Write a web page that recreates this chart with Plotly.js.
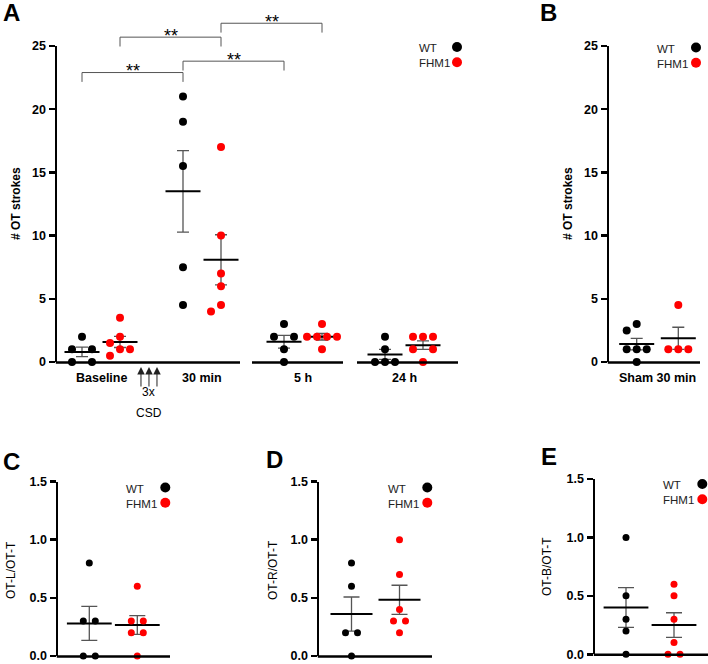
<!DOCTYPE html>
<html>
<head>
<meta charset="utf-8">
<script src="https://cdn.plot.ly/plotly-3.0.1.min.js"></script>
<style>
  html, body { margin: 0; padding: 0; background: #fff; overflow: hidden; }
  #fig { width: 708px; height: 664px; }
</style>
</head>
<body>
<div id="fig"></div>
<script>
/* ── Data ───────────────────────────────────────────────── */
const groupsA     = ['Baseline', '30 min', '5 h', '24 h'];
const strokesWT   = [[0, 0, 1, 1, 2], [21, 19, 15.5, 7.5, 4.5], [0, 1, 2, 2, 3], [0, 0, 0, 1, 2]];
const strokesFHM1 = [[3.5, 2, 1.5, 1, 1, 0.5], [17, 10, 7, 6, 4.5, 4], [1, 2, 2, 2, 2, 3], [0, 1, 1, 2, 2, 2]];

const groupsB  = ['Sham 30 min'];
const shamWT   = [0, 1, 1, 1, 2.5, 3];
const shamFHM1 = [1, 1, 1, 4.5];

const ratioL_WT   = [0, 0, 0.3, 0.3, 0.8];
const ratioL_FHM1 = [0, 0.2, 0.2, 0.3, 0.3, 0.6];
const ratioR_WT   = [0, 0.2, 0.2, 0.6, 0.8];
const ratioR_FHM1 = [0.2, 0.3, 0.3, 0.4, 0.7, 1.0];
const ratioB_WT   = [0, 0.2, 0.3, 0.5, 1.0];
const ratioB_FHM1 = [0, 0, 0.1, 0.3, 0.5, 0.6];

const ticksStrokes = [0, 5, 10, 15, 20, 25];
const ticksRatio   = [0, 0.5, 1.0, 1.5];

// significance in panel A: [group a, group b, genotype, label]
const sigA = [
  [0, 1, 'wt',  '**'],
  [0, 1, 'fhm', '**'],
  [1, 2, 'wt',  '**'],
  [1, 2, 'fhm', '**'],
];

/* ── Page geometry ───────────────────────────────────────── */
const W = 708, H = 664;
const FONT = 'Arial, "Liberation Sans", Helvetica, sans-serif';
const WT_COLOR = '#000000', FHM_COLOR = '#ff0000';

const fx = px => px / W;        // page px -> paper x
const fy = px => 1 - px / H;    // page px -> paper y

const PANELS = {
  A: { ax: '',  x0: 57,  x1: 458, y0: 362,   y1: 46,    c0: 101,   unit: 101, half: 19,   step: 10, dot: 8, meanW: 25, cap: 6, yMax: 25,  ticks: ticksStrokes, fmt: '' },
  B: { ax: '2', x0: 609, x1: 700, y0: 362,   y1: 46,    c0: 657.5, unit: 100, half: 20.8, step: 10, dot: 8, meanW: 25, cap: 6, yMax: 25,  ticks: ticksStrokes, fmt: '' },
  C: { ax: '3', x0: 58,  x1: 170, y0: 656,   y1: 481.5, c0: 113.3, unit: 100, half: 24,   step: 6,  dot: 7, meanW: 32, cap: 8, yMax: 1.5, ticks: ticksRatio,   fmt: '.1f' },
  D: { ax: '4', x0: 319, x1: 432, y0: 656,   y1: 481.5, c0: 375.5, unit: 100, half: 24,   step: 6,  dot: 7, meanW: 30, cap: 8, yMax: 1.5, ticks: ticksRatio,   fmt: '.1f' },
  E: { ax: '5', x0: 595, x1: 708, y0: 654.3, y1: 479,   c0: 650,   unit: 100, half: 24,   step: 6,  dot: 7, meanW: 32, cap: 8, yMax: 1.5, ticks: ticksRatio,   fmt: '.1f' },
};

const panelGroups = {
  A: groupsA.map((g, i) => ({ wt: strokesWT[i], fhm: strokesFHM1[i] })),
  B: [{ wt: shamWT, fhm: shamFHM1 }],
  C: [{ wt: ratioL_WT, fhm: ratioL_FHM1 }],
  D: [{ wt: ratioR_WT, fhm: ratioR_FHM1 }],
  E: [{ wt: ratioB_WT, fhm: ratioB_FHM1 }],
};

/* ── Helpers ─────────────────────────────────────────────── */
const mean = a => a.reduce((s, v) => s + v, 0) / a.length;
const sem  = a => {
  const m = mean(a);
  return Math.sqrt(a.reduce((s, v) => s + (v - m) ** 2, 0) / (a.length - 1) / a.length);
};

// Prism-like dot spreading: equal values share a row, overlapping dots get nudged
function swarm(values, p) {
  const ppu = (p.y0 - p.y1) / p.yMax;
  const d = p.step;
  const counts = {}, seen = {};
  values.forEach(v => { counts[v] = (counts[v] || 0) + 1; });
  const order = values.map((v, i) => i).sort((a, b) => values[b] - values[a]);
  const placed = [], off = new Array(values.length);
  order.forEach(i => {
    const v = values[i], n = counts[v];
    const k = seen[v] = (seen[v] === undefined ? 0 : seen[v] + 1);
    const gap = n === 2 ? 2 * d : d;
    let o = (k - (n - 1) / 2) * gap;
    const hits = t => placed.some(q => Math.hypot(q.o - t, (q.v - v) * ppu) < p.dot + 1);
    if (hits(o)) {
      const cands = [];
      for (let s = 1; s < 6; s++) cands.push(o - s * d, o + s * d);
      cands.sort((a, b) => Math.abs(a) - Math.abs(b) || a - b);
      o = cands.find(t => !hits(t));
    }
    placed.push({ o, v });
    off[i] = o;
  });
  return off;
}

function panelTraces(key) {
  const p = PANELS[key];
  const xa = 'x' + p.ax, ya = 'y' + p.ax;
  const out = [];
  [['wt', -1, WT_COLOR], ['fhm', 1, FHM_COLOR]].forEach(([g, side, color]) => {
    const xs = [], ys = [], mx = [], my = [], me = [];
    panelGroups[key].forEach((grp, i) => {
      const vals = grp[g];
      const base = i + side * p.half / p.unit;
      swarm(vals, p).forEach((o, j) => { xs.push(base + o / p.unit); ys.push(vals[j]); });
      mx.push(base); my.push(mean(vals)); me.push(sem(vals));
    });
    out.push({
      type: 'scatter', mode: 'markers', x: mx, y: my, xaxis: xa, yaxis: ya,
      cliponaxis: false, hoverinfo: 'skip',
      marker: { symbol: 'line-ew', size: p.meanW, line: { width: 2, color: '#000' } },
      error_y: { type: 'data', array: me, visible: true, color: '#555', thickness: 1.3, width: p.cap },
    });
    out.push({
      type: 'scatter', mode: 'markers', x: xs, y: ys, xaxis: xa, yaxis: ya,
      cliponaxis: false, hoverinfo: 'skip',
      marker: { size: p.dot, color, line: { width: 0 } },
    });
  });
  return out;
}

/* ── Layout ──────────────────────────────────────────────── */
const layout = {
  width: W, height: H,
  margin: { l: 0, r: 0, t: 0, b: 0 },
  paper_bgcolor: '#fff', plot_bgcolor: 'rgba(0,0,0,0)',
  showlegend: false,
  font: { family: FONT, color: '#000' },
  shapes: [], annotations: [],
};

Object.entries(PANELS).forEach(([k, p]) => {
  layout['xaxis' + p.ax] = {
    domain: [fx(p.x0), fx(p.x1)],
    range: [(p.x0 - p.c0) / p.unit, (p.x1 - p.c0) / p.unit],
    anchor: 'y' + p.ax, fixedrange: true, visible: false,
  };
  layout['yaxis' + p.ax] = {
    domain: [fy(p.y0), fy(p.y1)], range: [0, p.yMax],
    anchor: 'x' + p.ax, fixedrange: true,
    showline: true, linewidth: 2.5, linecolor: '#000',
    ticks: 'outside', ticklen: 6, tickwidth: 2.5, tickcolor: '#000',
    tickvals: p.ticks, tickformat: p.fmt, ticklabeloverflow: 'allow',
    showgrid: false, zeroline: false,
    tickfont: { family: FONT, size: 12.5, weight: 'bold', color: '#000' },
  };
});

// x baselines, drawn by hand because panel A's is broken in three pieces
const X_SEGMENTS = {
  A: [[55.8, 240], [252, 343], [357, 458]],
  B: [[607.8, 700]],
  C: [[56.8, 170]],
  D: [[317.8, 432]],
  E: [[593.8, 708]],
};
Object.entries(X_SEGMENTS).forEach(([k, segs]) => {
  const p = PANELS[k];
  segs.forEach(([a, b]) => layout.shapes.push({
    type: 'line', xref: 'paper', yref: 'paper', layer: 'above',
    x0: fx(a), x1: fx(b), y0: fy(p.y0 + 0.5), y1: fy(p.y0 + 0.5),
    line: { color: '#000', width: 2.6 },
  }));
});

const label = (text, x, y, font, extra) => Object.assign({
  text, x, y, xref: 'paper', yref: 'paper', xanchor: 'center', yanchor: 'middle',
  showarrow: false, font: Object.assign({ family: FONT, color: '#000' }, font),
}, extra || {});

// group labels under the axes
groupsA.forEach((g, i) => layout.annotations.push(
  label(g, i, fy(378), { size: 12.5, weight: 'bold' }, { xref: 'x' })));
groupsB.forEach((g, i) => layout.annotations.push(
  label(g, i, fy(378), { size: 12.5, weight: 'bold' }, { xref: 'x2' })));

// significance brackets (top heights in panel A data units)
const A = PANELS.A;
const BRACKET_TOP = [22.9, 25.7, 23.8, 26.8];
const BRACKET_LEG = 0.74;
const yA = v => fy(A.y0 - v * (A.y0 - A.y1) / A.yMax);
sigA.forEach(([ga, gb, g, txt], i) => {
  const side = g === 'wt' ? -1 : 1;
  const xa = ga + side * A.half / A.unit, xb = gb + side * A.half / A.unit;
  const top = yA(BRACKET_TOP[i]), leg = yA(BRACKET_TOP[i] - BRACKET_LEG);
  layout.shapes.push({
    type: 'path', xref: 'x', yref: 'paper',
    path: `M${xa},${leg} L${xa},${top} L${xb},${top} L${xb},${leg}`,
    line: { color: '#555', width: 1 },
  });
  layout.annotations.push(label(txt, (xa + xb) / 2, top, { size: 18 }, { xref: 'x', yshift: 1.5 }));
});

// 3x CSD arrows between Baseline and 30 min
const CSD_X = 0.475, CSD_DX = 8 / A.unit;
[-1, 0, 1].forEach(k => layout.annotations.push({
  text: '', x: CSD_X + k * CSD_DX, xref: 'x', y: fy(367), yref: 'paper',
  showarrow: true, ax: 0, ay: 21, arrowhead: 2, arrowsize: 1.5, arrowwidth: 1, arrowcolor: '#222',
}));
[['3x', 392], ['CSD', 413]].forEach(([t, py]) => layout.annotations.push(
  label(t, CSD_X, fy(py), { size: 12 }, { xref: 'x' })));

// legends: [text left, first row centre, dot centre]
const LEGENDS = { A: [417, 48, 457], B: [655, 48.5, 696], C: [124, 488.5, 165.3], D: [386, 488.5, 427.3], E: [661, 485, 702.3] };
Object.values(LEGENDS).forEach(([tx, ty, dx]) => {
  [['WT', WT_COLOR, 0], ['FHM1', FHM_COLOR, 15.3]].forEach(([t, c, dy]) => {
    layout.annotations.push(label(t, fx(tx), fy(ty + dy), { size: 11.5, color: '#222' }, { xanchor: 'left' }));
    layout.shapes.push({
      type: 'circle', xref: 'paper', yref: 'paper', fillcolor: c, line: { width: 0 },
      x0: fx(dx - 5), x1: fx(dx + 5), y0: fy(ty + dy - 6), y1: fy(ty + dy + 4),
    });
  });
});

// axis titles
[['# OT strokes', 16, 204, 'bold'], ['# OT strokes', 568, 204, 'bold'],
 ['OT-L/OT-T', 11, 570, 'normal'], ['OT-R/OT-T', 273, 570, 'normal'], ['OT-B/OT-T', 547, 567, 'normal']]
  .forEach(([t, x, y, w]) => layout.annotations.push(
    label(t, fx(x), fy(y), { size: 12, weight: w }, { textangle: -90 })));

// panel letters
[['A', 11, 12.5], ['B', 548.5, 12.5], ['C', 11.5, 461.5], ['D', 274, 459], ['E', 548.5, 456.5]]
  .forEach(([t, x, y]) => layout.annotations.push(
    label(t, fx(x), fy(y), { size: 24, weight: 'bold' })));

const traces = Object.keys(PANELS).flatMap(panelTraces);

Plotly.newPlot('fig', traces, layout, { staticPlot: true, displayModeBar: false });
</script>
</body>
</html>
